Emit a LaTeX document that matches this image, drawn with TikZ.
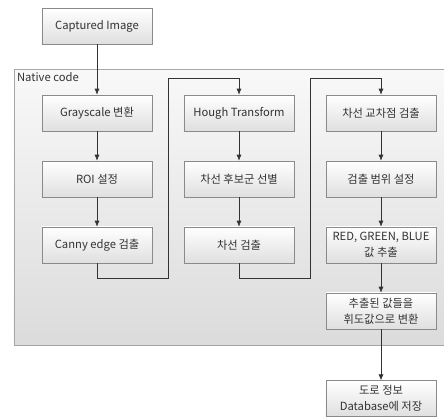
\documentclass[tikz,border=0pt]{standalone}
\usepackage{fontspec}
\setmainfont{Noto Sans CJK KR}
\usetikzlibrary{shadows}
\definecolor{boxline}{HTML}{8A8A8A}
\definecolor{txtgray}{HTML}{333333}
\definecolor{wiregray}{HTML}{333333}
\tikzset{
  procbox/.style={draw=boxline, rectangle, top color=white, bottom color=gray!25,
    minimum width=2.75cm, minimum height=0.9cm, align=center, text=txtgray,
    font=\fontsize{8}{11.5}\selectfont, inner sep=1pt,
    drop shadow={shadow xshift=0.6pt, shadow yshift=-0.6pt, opacity=0.35}},
  wire/.style={draw=wiregray, line width=0.55pt, -{Latex[length=1.5mm,width=1.3mm]}}
}
\usetikzlibrary{arrows.meta}
\begin{document}
\begin{tikzpicture}[node distance=1.65cm, auto]
\useasboundingbox (-2.425,2.825) rectangle (8.675,-7.65);
% container
\draw[draw=gray!70, line width=0.6pt, top color=gray!5, bottom color=gray!28]
  (-2.075,1.1) rectangle (8.9,-5.8);
\node (native)[anchor=north west, text=txtgray, font=\fontsize{8}{9.5}\selectfont, inner sep=2pt]
  at (-2.075,1.1) {Native code};
% first column
\node (gray)[procbox] at (0,0) {Grayscale 변환};
\node (roi)[procbox]   [below of = gray] {ROI 설정};
\node (canny)[procbox] [below of = roi] {Canny edge 검출};
\node (cap)[procbox]   [above of = gray, node distance=2.17cm] {Captured Image};
% second column
\node (hough)[procbox] [right of = gray, node distance=3.55cm] {Hough Transform};
\node (cand)[procbox]  [below of = hough] {차선 후보군 선별};
\node (lane)[procbox]  [below of = cand] {차선 검출};
% third column
\node (cross)[procbox] [right of = hough, node distance=3.55cm] {차선 교차점 검출};
\node (range)[procbox] [below of = cross] {검출 범위 설정};
\node (rgb)[procbox]   [below of = range] {RED, GREEN, BLUE\\값 추출};
\node (luma)[procbox]  [below of = rgb] {추출된 값들을\\휘도값으로 변환};
\node (db)[procbox]    [below of = luma, node distance=2.19cm] {도로 정보\\Database에 저장};
\draw[wire] (cap) -- (gray);
\draw[wire] (gray) -- (roi);
\draw[wire] (roi) -- (canny);
\draw[wire] (canny.south) -- ++(0,-0.375) -- ++(1.775,0) |- ([yshift=0.4cm]hough.north) -- (hough.north);
\draw[wire] (hough) -- (cand);
\draw[wire] (cand) -- (lane);
\draw[wire] (lane.south) -- ++(0,-0.375) -- ++(1.775,0) |- ([yshift=0.4cm]cross.north) -- (cross.north);
\draw[wire] (cross) -- (range);
\draw[wire] (range) -- (rgb);
\draw[wire] (rgb) -- (luma);
\draw[wire] (luma) -- (db);
\end{tikzpicture}
\end{document}
